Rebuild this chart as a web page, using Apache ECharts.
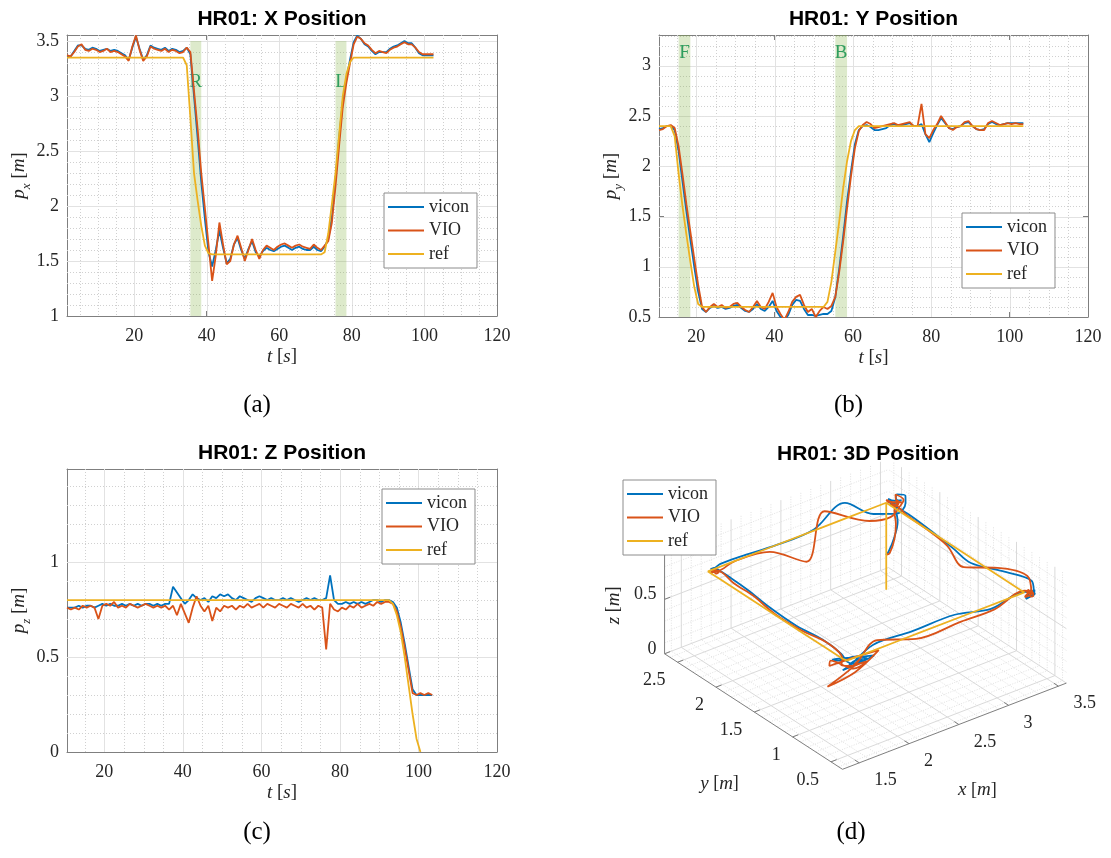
<!DOCTYPE html>
<html>
<head>
<meta charset="utf-8">
<title>HR01 position tracking</title>
<script src="https://cdn.jsdelivr.net/npm/echarts@6/dist/echarts.min.js"></script>
<style>
  html, body { margin: 0; padding: 0; background: #ffffff; }
  #chart { width: 1111px; height: 858px; }
</style>
</head>
<body>
<div id="chart"></div>
<script>
// ---------- sampled trajectories (1 s sampling) ----------
const X_T0 = 1.5;    // first sample of the x channel [s]
const YZ_T0 = 10.5;  // first sample of the y and z channels [s]
const DT = 1;

// x position [m], t = 1.5 ... 102.5 s
const xVicon = [
  3.36, 3.36, 3.41, 3.46, 3.46, 3.43, 3.42, 3.44, 3.43, 3.41,
  3.42, 3.43, 3.41, 3.42, 3.41, 3.39, 3.37, 3.33, 3.44, 3.54,
  3.43, 3.33, 3.37, 3.46, 3.44, 3.43, 3.42, 3.44, 3.41, 3.43,
  3.42, 3.40, 3.41, 3.44, 3.38, 3.00, 2.62, 2.22, 1.88, 1.58,
  1.45, 1.60, 1.78, 1.62, 1.48, 1.52, 1.65, 1.71, 1.60, 1.52,
  1.61, 1.68, 1.58, 1.54, 1.59, 1.62, 1.60, 1.59, 1.61, 1.63,
  1.64, 1.62, 1.60, 1.62, 1.63, 1.61, 1.60, 1.60, 1.63, 1.60,
  1.59, 1.63, 1.70, 1.90, 2.25, 2.62, 2.95, 3.16, 3.33, 3.49,
  3.55, 3.52, 3.47, 3.45, 3.41, 3.38, 3.40, 3.40, 3.40, 3.43,
  3.45, 3.46, 3.48, 3.50, 3.48, 3.48, 3.44, 3.39, 3.37, 3.37,
  3.37, 3.37
];
const xVIO = [
  3.37, 3.36, 3.40, 3.45, 3.47, 3.42, 3.41, 3.43, 3.42, 3.40,
  3.41, 3.43, 3.40, 3.41, 3.40, 3.38, 3.36, 3.32, 3.45, 3.55,
  3.42, 3.32, 3.36, 3.45, 3.43, 3.42, 3.41, 3.43, 3.40, 3.42,
  3.41, 3.39, 3.40, 3.44, 3.40, 3.05, 2.70, 2.30, 1.98, 1.65,
  1.32, 1.55, 1.85, 1.65, 1.47, 1.50, 1.65, 1.73, 1.62, 1.50,
  1.60, 1.70, 1.60, 1.52, 1.60, 1.64, 1.62, 1.60, 1.63, 1.65,
  1.66, 1.64, 1.62, 1.64, 1.65, 1.63, 1.62, 1.61, 1.65, 1.62,
  1.60, 1.64, 1.68, 1.85, 2.18, 2.55, 2.90, 3.12, 3.30, 3.47,
  3.54, 3.52, 3.48, 3.46, 3.42, 3.39, 3.41, 3.40, 3.39, 3.42,
  3.44, 3.45, 3.47, 3.49, 3.47, 3.47, 3.44, 3.40, 3.38, 3.38,
  3.38, 3.38
];
const xRef = [
  3.35, 3.35, 3.35, 3.35, 3.35, 3.35, 3.35, 3.35, 3.35, 3.35,
  3.35, 3.35, 3.35, 3.35, 3.35, 3.35, 3.35, 3.35, 3.35, 3.35,
  3.35, 3.35, 3.35, 3.35, 3.35, 3.35, 3.35, 3.35, 3.35, 3.35,
  3.35, 3.35, 3.35, 3.28, 2.80, 2.30, 2.05, 1.82, 1.64, 1.57,
  1.56, 1.56, 1.56, 1.56, 1.56, 1.56, 1.56, 1.56, 1.56, 1.56,
  1.56, 1.56, 1.56, 1.56, 1.56, 1.56, 1.56, 1.56, 1.56, 1.56,
  1.56, 1.56, 1.56, 1.56, 1.56, 1.56, 1.56, 1.56, 1.56, 1.56,
  1.56, 1.58, 1.75, 2.02, 2.30, 2.65, 3.00, 3.20, 3.31, 3.35,
  3.35, 3.35, 3.35, 3.35, 3.35, 3.35, 3.35, 3.35, 3.35, 3.35,
  3.35, 3.35, 3.35, 3.35, 3.35, 3.35, 3.35, 3.35, 3.35, 3.35,
  3.35, 3.35
];

// y position [m], t = 10.5 ... 103.5 s
const yVicon = [
  2.37, 2.38, 2.40, 2.40, 2.36, 2.15, 1.85, 1.55, 1.27, 1.00,
  0.75, 0.58, 0.55, 0.59, 0.61, 0.59, 0.60, 0.58, 0.59, 0.61,
  0.62, 0.59, 0.56, 0.55, 0.58, 0.63, 0.58, 0.56, 0.60, 0.66,
  0.56, 0.50, 0.47, 0.52, 0.62, 0.67, 0.66, 0.58, 0.52, 0.52,
  0.51, 0.52, 0.53, 0.53, 0.56, 0.70, 0.98, 1.30, 1.65, 1.95,
  2.22, 2.36, 2.40, 2.41, 2.39, 2.36, 2.36, 2.37, 2.38, 2.41,
  2.42, 2.40, 2.41, 2.42, 2.43, 2.40, 2.40, 2.42, 2.32, 2.24,
  2.33, 2.41, 2.48, 2.43, 2.38, 2.37, 2.39, 2.40, 2.43, 2.44,
  2.40, 2.37, 2.36, 2.37, 2.42, 2.44, 2.42, 2.41, 2.42, 2.43,
  2.43, 2.43, 2.43, 2.43
];
const yVIO = [
  2.36, 2.37, 2.40, 2.41, 2.38, 2.20, 1.92, 1.62, 1.35, 1.08,
  0.82, 0.60, 0.55, 0.60, 0.63, 0.60, 0.62, 0.59, 0.60, 0.63,
  0.64, 0.60, 0.57, 0.55, 0.60, 0.66, 0.60, 0.58, 0.65, 0.74,
  0.60, 0.53, 0.47, 0.55, 0.65, 0.70, 0.72, 0.62, 0.55, 0.58,
  0.50, 0.56, 0.60, 0.58, 0.61, 0.70, 0.95, 1.25, 1.58, 1.90,
  2.18, 2.35, 2.41, 2.44, 2.42, 2.38, 2.39, 2.40, 2.41, 2.42,
  2.43, 2.41, 2.42, 2.43, 2.44, 2.40, 2.40, 2.62, 2.32, 2.28,
  2.36, 2.42, 2.50, 2.44, 2.38, 2.36, 2.39, 2.40, 2.44, 2.45,
  2.40, 2.37, 2.36, 2.36, 2.43, 2.45, 2.43, 2.41, 2.42, 2.43,
  2.42, 2.43, 2.42, 2.42
];
const yRef = [
  2.40, 2.40, 2.40, 2.40, 2.30, 1.93, 1.60, 1.32, 1.05, 0.80,
  0.63, 0.60, 0.60, 0.60, 0.60, 0.60, 0.60, 0.60, 0.60, 0.60,
  0.60, 0.60, 0.60, 0.60, 0.60, 0.60, 0.60, 0.60, 0.60, 0.60,
  0.60, 0.60, 0.60, 0.60, 0.60, 0.60, 0.60, 0.60, 0.60, 0.60,
  0.60, 0.60, 0.60, 0.65, 0.85, 1.15, 1.45, 1.78, 2.05, 2.25,
  2.36, 2.40, 2.40, 2.40, 2.40, 2.40, 2.40, 2.40, 2.40, 2.40,
  2.40, 2.40, 2.40, 2.40, 2.40, 2.40, 2.40, 2.40, 2.40, 2.40,
  2.40, 2.40, 2.40, 2.40, 2.40, 2.40, 2.40, 2.40, 2.40, 2.40,
  2.40, 2.40, 2.40, 2.40, 2.40, 2.40, 2.40, 2.40, 2.40, 2.40,
  2.40, 2.40, 2.40, 2.40
];

// z position [m], t = 10.5 ... 103.5 s
const zVicon = [
  0.76, 0.76, 0.76, 0.77, 0.76, 0.77, 0.77, 0.76, 0.77, 0.78,
  0.77, 0.78, 0.77, 0.77, 0.78, 0.77, 0.78, 0.77, 0.78, 0.77,
  0.78, 0.78, 0.77, 0.78, 0.77, 0.78, 0.78, 0.87, 0.84, 0.81,
  0.78, 0.80, 0.83, 0.81, 0.80, 0.81, 0.79, 0.82, 0.81, 0.83,
  0.82, 0.83, 0.81, 0.80, 0.82, 0.81, 0.80, 0.79, 0.81, 0.82,
  0.81, 0.80, 0.81, 0.80, 0.80, 0.81, 0.80, 0.81, 0.80, 0.79,
  0.80, 0.81, 0.80, 0.81, 0.80, 0.80, 0.81, 0.93, 0.80, 0.78,
  0.78, 0.79, 0.78, 0.79, 0.78, 0.79, 0.78, 0.79, 0.80, 0.80,
  0.79, 0.80, 0.80, 0.79, 0.76, 0.68, 0.57, 0.45, 0.33, 0.30,
  0.30, 0.30, 0.30, 0.30
];
const zVIO = [
  0.76, 0.75, 0.76, 0.75, 0.77, 0.76, 0.77, 0.76, 0.70, 0.77,
  0.78, 0.77, 0.79, 0.76, 0.77, 0.76, 0.78, 0.77, 0.76, 0.77,
  0.78, 0.77, 0.76, 0.77, 0.76, 0.77, 0.75, 0.77, 0.72, 0.78,
  0.73, 0.68, 0.76, 0.82, 0.77, 0.74, 0.77, 0.69, 0.76, 0.74,
  0.77, 0.76, 0.77, 0.75, 0.77, 0.76, 0.78, 0.76, 0.77, 0.78,
  0.76, 0.78, 0.77, 0.76, 0.78, 0.77, 0.76, 0.78, 0.77, 0.76,
  0.78, 0.76, 0.77, 0.75, 0.77, 0.76, 0.54, 0.78, 0.75, 0.74,
  0.76, 0.75, 0.77, 0.76, 0.78, 0.76, 0.77, 0.78, 0.77, 0.79,
  0.78, 0.79, 0.79, 0.78, 0.74, 0.66, 0.55, 0.43, 0.31, 0.30,
  0.31, 0.30, 0.31, 0.30
];
const zRef = [
  0.80, 0.80, 0.80, 0.80, 0.80, 0.80, 0.80, 0.80, 0.80, 0.80,
  0.80, 0.80, 0.80, 0.80, 0.80, 0.80, 0.80, 0.80, 0.80, 0.80,
  0.80, 0.80, 0.80, 0.80, 0.80, 0.80, 0.80, 0.80, 0.80, 0.80,
  0.80, 0.80, 0.80, 0.80, 0.80, 0.80, 0.80, 0.80, 0.80, 0.80,
  0.80, 0.80, 0.80, 0.80, 0.80, 0.80, 0.80, 0.80, 0.80, 0.80,
  0.80, 0.80, 0.80, 0.80, 0.80, 0.80, 0.80, 0.80, 0.80, 0.80,
  0.80, 0.80, 0.80, 0.80, 0.80, 0.80, 0.80, 0.80, 0.80, 0.80,
  0.80, 0.80, 0.80, 0.80, 0.80, 0.80, 0.80, 0.80, 0.80, 0.80,
  0.80, 0.80, 0.80, 0.78, 0.72, 0.63, 0.50, 0.35, 0.20, 0.07,
  0.00, null, null, null
];

// ---------- tick labels ----------
const tTicks = [20, 40, 60, 80, 100, 120];
const pxTicks = [1, 1.5, 2, 2.5, 3, 3.5];
const pyTicks = [0.5, 1, 1.5, 2, 2.5, 3];
const pzTicks = [0, 0.5, 1];
const x3Ticks = [1.5, 2, 2.5, 3, 3.5];
const y3Ticks = [0.5, 1, 1.5, 2, 2.5];
const z3Ticks = [0, 0.5];

// ---------- manoeuvre windows (start time [s], marker) ----------
const xWindowStart = [35.5, 75.5];
const xWindowLabel = ['R', 'L'];
const yWindowStart = [15.5, 55.5];
const yWindowLabel = ['F', 'B'];
const WINDOW_LEN = 3;      // s
const WINDOW_TOP = 3.5;    // m
const WINDOW_LABEL_AT = 3.13;

const seriesNames = ['vicon', 'VIO', 'ref'];

// ---------- style ----------
const SERIF = "'Liberation Serif', 'DejaVu Serif', serif";
const SANS = "'Liberation Sans', Arial, Helvetica, sans-serif";
const COLORS = { vicon: '#0072BD', VIO: '#D95319', ref: '#EDB120' };
const AXIS_COLOR = '#7f7f7f';
const TEXT_COLOR = '#262626';
const MAJOR_GRID = '#e2e2e2';
const MINOR_GRID = '#d0d0d0';
const BAND_FILL = 'rgba(119,172,48,0.25)';
const BAND_TEXT = '#2f9e5e';
const LINE_W = 1.8;

const NAME_STYLE = {
  fontFamily: SERIF, fontSize: 19, color: TEXT_COLOR,
  rich: {
    i: { fontFamily: SERIF, fontStyle: 'italic', fontSize: 19, color: TEXT_COLOR },
    sub: { fontFamily: SERIF, fontStyle: 'italic', fontSize: 13, color: TEXT_COLOR, verticalAlign: 'bottom', lineHeight: 28 }
  }
};

// ---------- helpers ----------
const timeX = xVicon.map((_, i) => X_T0 + i * DT);
const timeYZ = yVicon.map((_, i) => YZ_T0 + i * DT);
const pairs = (times, values) => times.map((t, i) => [t, values[i]]);

function steps(lo, hi, step) {
  const out = [];
  for (let k = Math.ceil(lo / step - 1e-9); k * step <= hi + 1e-9; k++) {
    const v = +(k * step).toFixed(6);
    if (v > lo + 1e-9 && v < hi - 1e-9) out.push(v);
  }
  return out;
}
const isMultiple = (v, m) => Math.abs(v / m - Math.round(v / m)) < 1e-6;

// ---------- 2-D panels ----------
const panels = [
  { grid: { left: 67, top: 35, width: 430, height: 281 }, xr: [1.5, 120], yr: [1, 3.555],
    yTicks: pxTicks, yName: '{i|p}{sub|x} [{i|m}]', time: timeX, values: [xVicon, xVIO, xRef],
    windows: { start: xWindowStart, label: xWindowLabel }, legendAt: { left: 384, top: 193 },
    title: 'HR01: X Position', titleY: 19, caption: '(a)', captionY: 405 },
  { grid: { left: 659, top: 35, width: 429, height: 282 }, xr: [10.5, 120], yr: [0.5, 3.306],
    yTicks: pyTicks, yName: '{i|p}{sub|y} [{i|m}]', time: timeYZ, values: [yVicon, yVIO, yRef],
    windows: { start: yWindowStart, label: yWindowLabel }, legendAt: { left: 962, top: 213 },
    title: 'HR01: Y Position', titleY: 19, caption: '(b)', captionY: 405 },
  { grid: { left: 67, top: 469, width: 430, height: 283 }, xr: [10.5, 120], yr: [0, 1.49],
    yTicks: pzTicks, yName: '{i|p}{sub|z} [{i|m}]', time: timeYZ, values: [zVicon, zVIO, zRef],
    windows: null, legendAt: { left: 382, top: 489 },
    title: 'HR01: Z Position', titleY: 453, caption: '(c)', captionY: 832 }
];

const grids = [], xAxes = [], yAxes = [], series = [], legends = [], graphics = [];

function legendFor(pos) {
  return {
    data: seriesNames, left: pos.left, top: pos.top, orient: 'vertical', icon: 'rect',
    itemWidth: 36, itemHeight: 2, itemGap: 5.5, padding: [5, 8, 5, 4],
    backgroundColor: '#ffffff', borderColor: '#8c8c8c', borderWidth: 1, borderRadius: 0,
    selectedMode: false, z: 20,
    textStyle: { fontFamily: SERIF, fontSize: 18, color: TEXT_COLOR }
  };
}

function textEl(x, y, text, style, extra) {
  return Object.assign({
    type: 'text', x, y, silent: true,
    style: Object.assign({ text, fill: TEXT_COLOR, fontFamily: SERIF, fontSize: 18,
      align: 'center', verticalAlign: 'middle', textAlign: 'center', textVerticalAlign: 'middle' }, style)
  }, extra || {});
}

panels.forEach((p, k) => {
  grids.push(p.grid);
  const xi = xAxes.length, yi = yAxes.length;
  const line = { show: true, onZero: false, lineStyle: { color: AXIS_COLOR, width: 1 } };
  const xBase = { gridIndex: k, type: 'value', min: p.xr[0], max: p.xr[1], splitLine: { show: false },
    axisLine: line, axisTick: { show: true, inside: true, length: 5, customValues: tTicks, lineStyle: { color: AXIS_COLOR } } };
  const yBase = { gridIndex: k, type: 'value', min: p.yr[0], max: p.yr[1], splitLine: { show: false },
    axisLine: line, axisTick: { show: true, inside: true, length: 5, customValues: p.yTicks, lineStyle: { color: AXIS_COLOR } } };
  xAxes.push(Object.assign({}, xBase, {
    position: 'bottom',
    axisLabel: { customValues: tTicks, color: TEXT_COLOR, fontFamily: SERIF, fontSize: 18, margin: 11 },
    name: '{i|t} [{i|s}]', nameLocation: 'middle', nameGap: 31, nameTextStyle: NAME_STYLE
  }));
  xAxes.push(Object.assign({}, xBase, { position: 'top', axisLabel: { show: false } }));
  yAxes.push(Object.assign({}, yBase, {
    position: 'left',
    axisLabel: { customValues: p.yTicks, color: TEXT_COLOR, fontFamily: SERIF, fontSize: 18, margin: 8 },
    name: p.yName, nameLocation: 'middle', nameGap: 33, nameTextStyle: NAME_STYLE
  }));
  yAxes.push(Object.assign({}, yBase, { position: 'right', axisLabel: { show: false } }));

  // major / minor grid
  series.push({
    type: 'custom', xAxisIndex: xi, yAxisIndex: yi, silent: true, z: 1,
    data: [[p.xr[0], p.yr[0]]],
    renderItem: (params, api) => {
      const children = [];
      const push = (a, b, major, vertical) => {
        const s = vertical ? { x1: Math.round(a[0]) + 0.5, y1: a[1], x2: Math.round(a[0]) + 0.5, y2: b[1] }
                           : { x1: a[0], y1: Math.round(a[1]) + 0.5, x2: b[0], y2: Math.round(a[1]) + 0.5 };
        children.push({ type: 'line', shape: s,
          style: { stroke: major ? MAJOR_GRID : MINOR_GRID, lineWidth: 1, lineDash: major ? null : [1, 2] } });
      };
      steps(p.xr[0], p.xr[1], 5).forEach(v => push(api.coord([v, p.yr[1]]), api.coord([v, p.yr[0]]), isMultiple(v, 20), true));
      steps(p.yr[0], p.yr[1], 0.1).forEach(v => push(api.coord([p.xr[0], v]), api.coord([p.xr[1], v]), isMultiple(v, 0.5), false));
      return { type: 'group', children };
    }
  });

  // manoeuvre windows
  if (p.windows) {
    series.push({
      type: 'custom', xAxisIndex: xi, yAxisIndex: yi, silent: true, z: 2,
      data: p.windows.start.map((s, j) => [s, p.yr[0], j]),
      renderItem: (params, api) => {
        const s = api.value(0), j = api.value(2);
        const top = Math.min(WINDOW_TOP, p.yr[1]);
        const a = api.coord([s, top]), b = api.coord([s + WINDOW_LEN, p.yr[0]]);
        const c = api.coord([s + WINDOW_LEN / 2, WINDOW_LABEL_AT]);
        return { type: 'group', children: [
          { type: 'rect', shape: { x: a[0], y: a[1], width: b[0] - a[0], height: b[1] - a[1] }, style: { fill: BAND_FILL } },
          { type: 'text', x: c[0], y: c[1], style: { text: p.windows.label[j], fill: BAND_TEXT, fontFamily: SERIF, fontSize: 19,
              align: 'center', verticalAlign: 'middle', textAlign: 'center', textVerticalAlign: 'middle' } }
        ] };
      }
    });
  }

  seriesNames.forEach((name, j) => series.push({
    type: 'line', name, xAxisIndex: xi, yAxisIndex: yi, data: pairs(p.time, p.values[j]),
    showSymbol: false, symbol: 'none', clip: true, silent: true, z: 3 + j,
    lineStyle: { color: COLORS[name], width: LINE_W }, itemStyle: { color: COLORS[name] }
  }));

  legends.push(legendFor(p.legendAt));
  graphics.push(textEl(p.grid.left + p.grid.width / 2, p.titleY, p.title,
    { fontFamily: SANS, fontWeight: 'bold', fontSize: 21, fill: '#000000' }));
  graphics.push(textEl(p.grid.left + p.grid.width / 2 - 25, p.captionY, p.caption, { fontSize: 25, fill: '#000000' }));
});

// ---------- 3-D panel: orthographic view, equal data aspect ----------
const box3 = { x: [1.332, 3.58], y: [0.35, 2.67], z: [0, 1] };
const VIEW = { az: 37.6, el: 30, scale: 125.7, origin: [842.5, 769.3] };   // origin = floor corner (xmin, ymin, zmin)
const rad = Math.PI / 180;
const EX = [VIEW.scale * Math.cos(VIEW.az * rad), -VIEW.scale * Math.sin(VIEW.az * rad) * Math.sin(VIEW.el * rad)];
const EY = [-VIEW.scale * Math.sin(VIEW.az * rad), -VIEW.scale * Math.cos(VIEW.az * rad) * Math.sin(VIEW.el * rad)];
const EZ = [0, -VIEW.scale * Math.cos(VIEW.el * rad)];
function project(x, y, z) {
  const dx = x - box3.x[0], dy = y - box3.y[0], dz = z - box3.z[0];
  return [VIEW.origin[0] + EX[0] * dx + EY[0] * dy + EZ[0] * dz,
          VIEW.origin[1] + EX[1] * dx + EY[1] * dy + EZ[1] * dz];
}

const g3 = grids.length;
grids.push({ left: 0, top: 0, width: 1111, height: 858 });
const xi3 = xAxes.length, yi3 = yAxes.length;
xAxes.push({ gridIndex: g3, type: 'value', min: 0, max: 1111, show: false });
yAxes.push({ gridIndex: g3, type: 'value', min: 0, max: 858, inverse: true, show: false });

// grid on floor and the two back walls
series.push({
  type: 'custom', xAxisIndex: xi3, yAxisIndex: yi3, silent: true, z: 1, data: [[0, 0]],
  renderItem: (params, api) => {
    const [x0, x1] = box3.x, [y0, y1] = box3.y, [z0, z1] = box3.z;
    const children = [];
    const seg = (A, B, major) => {
      const a = api.coord(project(...A)), b = api.coord(project(...B));
      children.push({ type: 'line', shape: { x1: a[0], y1: a[1], x2: b[0], y2: b[1] },
        style: { stroke: major ? '#dadada' : '#d9d9d9', lineWidth: major ? 1 : 0.8, lineDash: major ? null : [1, 1.5] } });
    };
    steps(x0, x1, 0.1).forEach(x => {
      const m = isMultiple(x, 0.5);
      seg([x, y0, z0], [x, y1, z0], m);
      seg([x, y1, z0], [x, y1, z1], m);
    });
    steps(y0, y1, 0.1).forEach(y => {
      const m = isMultiple(y, 0.5);
      seg([x0, y, z0], [x1, y, z0], m);
      seg([x1, y, z0], [x1, y, z1], m);
    });
    [z0].concat(steps(z0, z1, 0.1)).forEach(z => {
      const m = isMultiple(z, 0.5);
      seg([x0, y1, z], [x1, y1, z], m);
      seg([x1, y0, z], [x1, y1, z], m);
    });
    return { type: 'group', children };
  }
});

// axes, ticks, tick labels and axis names
series.push({
  type: 'custom', xAxisIndex: xi3, yAxisIndex: yi3, silent: true, z: 2, data: [[0, 0]],
  renderItem: (params, api) => {
    const [x0, x1] = box3.x, [y0, y1] = box3.y, [z0, z1] = box3.z;
    const P = (x, y, z) => api.coord(project(x, y, z));
    const children = [];
    const seg = (a, b) => children.push({ type: 'line', shape: { x1: a[0], y1: a[1], x2: b[0], y2: b[1] },
      style: { stroke: AXIS_COLOR, lineWidth: 1 } });
    const label = (x, y, text, align, extra) => children.push(Object.assign({ type: 'text', x, y,
      style: { text, fill: TEXT_COLOR, fontFamily: SERIF, fontSize: 18, align, verticalAlign: 'middle',
        textAlign: align, textVerticalAlign: 'middle',
        rich: { i: { fontFamily: SERIF, fontStyle: 'italic', fontSize: 19, fill: TEXT_COLOR } } } }, extra || {}));
    seg(P(x0, y0, z0), P(x1, y0, z0));
    seg(P(x0, y0, z0), P(x0, y1, z0));
    seg(P(x0, y1, z0), P(x0, y1, z1));
    const tl = 0.025;
    x3Ticks.forEach(v => {
      const a = P(v, y0, z0); seg(a, P(v, y0 + tl * (y1 - y0), z0));
      label(a[0] + 15, a[1] + 17.5, String(v), 'left');
    });
    y3Ticks.forEach(v => {
      const a = P(x0, v, z0); seg(a, P(x0 + tl * (x1 - x0), v, z0));
      label(a[0] - 12, a[1] + 18, String(v), 'right');
    });
    z3Ticks.forEach(v => {
      const a = P(x0, y1, v); seg(a, P(x0 + tl * (x1 - x0), y1, v));
      label(a[0] - 8, a[1] - 5, String(v), 'right');
    });
    const mx = P((x0 + x1) / 2, y0, z0), my = P(x0, (y0 + y1) / 2, z0), mz = P(x0, y1, (z0 + z1) / 2);
    label(mx[0] + 23, mx[1] + 64, '{i|x} [{i|m}]', 'center');
    label(my[0] - 34, my[1] + 72, '{i|y} [{i|m}]', 'center');
    label(mz[0] - 51, mz[1] + 6, '{i|z} [{i|m}]', 'center', { rotation: Math.PI / 2 });
    return { type: 'group', children };
  }
});

// trajectories in 3-D
const OFFSET_X = Math.round((YZ_T0 - X_T0) / DT);
function path3(xs, ys, zs) {
  const pts = [];
  for (let i = 0; i < ys.length && i + OFFSET_X < xs.length; i++) {
    if (xs[i + OFFSET_X] == null || ys[i] == null || zs[i] == null) continue;
    pts.push(project(xs[i + OFFSET_X], ys[i], zs[i]));
  }
  return pts;
}
const paths3 = { vicon: path3(xVicon, yVicon, zVicon), VIO: path3(xVIO, yVIO, zVIO), ref: path3(xRef, yRef, zRef) };
seriesNames.forEach((name, j) => series.push({
  type: 'line', name, xAxisIndex: xi3, yAxisIndex: yi3, data: paths3[name],
  showSymbol: false, symbol: 'none', silent: true, z: 3 + j,
  smooth: name === 'ref' ? false : 0.35,
  lineStyle: { color: COLORS[name], width: LINE_W }, itemStyle: { color: COLORS[name] }
}));
legends.push(legendFor({ left: 623, top: 480 }));
graphics.push(textEl(868, 454, 'HR01: 3D Position', { fontFamily: SANS, fontWeight: 'bold', fontSize: 21, fill: '#000000' }));
graphics.push(textEl(851, 832, '(d)', { fontSize: 25, fill: '#000000' }));

const chart = echarts.init(document.getElementById('chart'), null, { renderer: 'canvas' });
chart.setOption({
  animation: false,
  backgroundColor: '#ffffff',
  grid: grids,
  xAxis: xAxes,
  yAxis: yAxes,
  legend: legends,
  graphic: graphics,
  series
});
</script>
</body>
</html>
